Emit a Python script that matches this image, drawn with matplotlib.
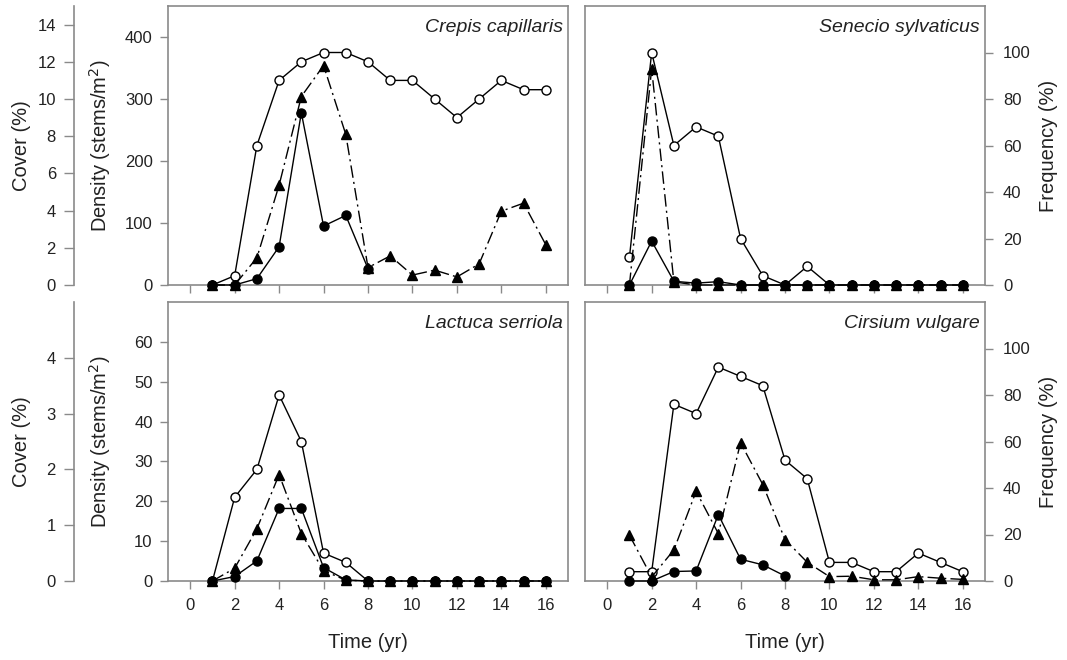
import numpy as np
import matplotlib.pyplot as plt

plt.rcParams['font.family'] = ['Liberation Sans', 'DejaVu Sans']

nan = np.nan
years = np.arange(1, 17)

# frequency (%) - open circles
crepis_freq = [0, 4, 60, 88, 96, 100, 100, 96, 88, 88, 80, 72, 80, 88, 84, 84]
senecio_freq = [12, 100, 60, 68, 64, 20, 4, 0, 8, 0, 0, 0, 0, 0, 0, 0]
lactuca_freq = [0, 36, 48, 80, 60, 12, 8, 0, 0, 0, 0, 0, 0, 0, 0, 0]
cirsium_freq = [4, 4, 76, 72, 92, 88, 84, 52, 44, 8, 8, 4, 4, 12, 8, 4]

# density (stems/m2) - triangles
crepis_dens = [0, 0, 44, 161, 304, 354, 243, 28, 47, 16, 24, 13, 34, 119, 132, 65]
senecio_dens = [0, 349, 5, 0, 0, 0, 0, 0, 0, 0, 0, 0, 0, 0, 0, 0]
lactuca_dens = [0, 3.2, 13.1, 26.7, 11.9, 2.6, 0.2, 0, 0, 0, 0, 0, 0, 0, 0, 0]
cirsium_dens = [11.5, 1.0, 7.8, 22.5, 11.9, 34.7, 24.2, 10.4, 4.7, 1.1, 1.2, 0.3, 0.3, 1.1, 0.7, 0.4]

# cover (%) - filled circles
crepis_cover = [0, 0, 0.34, 2.06, 9.26, 3.17, 3.74, 0.88, nan, nan, nan, nan, nan, nan, nan, nan]
senecio_cover = [0, 2.36, 0.2, 0.1, 0.18, 0, 0, 0, 0, 0, 0, 0, 0, 0, 0, 0]
lactuca_cover = [0, 0.08, 0.36, 1.30, 1.30, 0.24, 0.02, 0, 0, 0, 0, 0, 0, 0, 0, 0]
cirsium_cover = [0, 0, 0.17, 0.18, 1.19, 0.39, 0.29, 0.09, nan, nan, nan, nan, nan, nan, nan, nan]

species = ['Crepis capillaris', 'Senecio sylvaticus', 'Lactuca serriola', 'Cirsium vulgare']
freqs = [crepis_freq, senecio_freq, lactuca_freq, cirsium_freq]
denss = [crepis_dens, senecio_dens, lactuca_dens, cirsium_dens]
covers = [crepis_cover, senecio_cover, lactuca_cover, cirsium_cover]

# per row: density max, cover max, ticks
dens_max = [450, 70]
cover_max = [15, 5]
dens_ticks = [np.arange(0, 401, 100), np.arange(0, 61, 10)]
cover_ticks = [np.arange(0, 15, 2), np.arange(0, 5, 1)]

gray = '#8a8a8a'
txt = '#222222'
W, H = 1067, 660

fig = plt.figure(figsize=(W / 100, H / 100), dpi=100)

lefts = [168, 585]
tops = [6, 302]
pw, ph = 400, 279

for i in range(4):
    r, c = divmod(i, 2)
    x0, y0 = lefts[c], tops[r]
    fax = fig.add_axes([x0 / W, 1 - (y0 + ph) / H, pw / W, ph / H])
    dax = fax.twinx()
    cax = fax.twinx()

    fax.set_xlim(-1, 17)
    fax.set_ylim(0, 120)
    dax.set_ylim(0, dens_max[r])
    cax.set_ylim(0, cover_max[r])

    fax.plot(years, freqs[i], '-', color='black', lw=1, marker='o', ms=6.5,
             mfc='white', mec='black', mew=1, clip_on=False)
    dax.plot(years, denss[i], color='black', lw=1, dashes=(9, 3, 1.5, 3),
             marker='^', ms=6.5, mfc='black', mec='black', clip_on=False)
    cax.plot(years, covers[i], '-', color='black', lw=1, marker='o', ms=6.5,
             mfc='black', mec='black', clip_on=False)

    for a in (fax, dax, cax):
        for s in a.spines.values():
            s.set_visible(False)
        a.tick_params(left=False, right=False, labelleft=False, labelright=False,
                      colors=gray, labelcolor=txt, labelsize=12, length=6, width=1)
        a.set_yticks([])
    for s in fax.spines.values():
        s.set_visible(True)
        s.set_color(gray)
        s.set_linewidth(1.2)

    fax.set_xticks(np.arange(0, 17, 2))
    fax.tick_params(axis='x', bottom=True, top=False, direction='out', pad=6,
                    labelbottom=(r == 1))

    if c == 0:
        dax.set_yticks(dens_ticks[r])
        dax.yaxis.set_ticks_position('left')
        dax.tick_params(axis='y', left=True, labelleft=True, right=False,
                        labelright=False, pad=5)
        cax.set_yticks(cover_ticks[r])
        cax.yaxis.set_ticks_position('left')
        cax.spines['left'].set_visible(True)
        cax.spines['left'].set_color(gray)
        cax.spines['left'].set_linewidth(1.2)
        cax.spines['left'].set_position(('axes', -(x0 - 74) / pw))
        cax.tick_params(axis='y', left=True, labelleft=True, right=False,
                        labelright=False, length=7, pad=6)
    else:
        fax.set_yticks(np.arange(0, 101, 20))
        fax.tick_params(axis='y', right=True, labelright=True, left=False,
                        labelleft=False, pad=7)

    fax.text((pw - 5) / pw, (ph - 22) / ph, species[i], transform=fax.transAxes,
             ha='right', va='center', style='italic', fontsize=14, color=txt)

    if r == 1:
        fig.text((x0 + pw / 2) / W, 1 - 643 / H, 'Time (yr)', ha='center', va='center',
                 fontsize=14.5, color=txt)

for r in range(2):
    yc = 1 - (tops[r] + ph / 2) / H
    fig.text(22 / W, yc, 'Cover (%)', rotation=90, ha='center', va='center',
             fontsize=14.5, color=txt)
    fig.text(100 / W, yc, 'Density (stems/m$^2$)', rotation=90, ha='center',
             va='center', fontsize=14.5, color=txt)
    fig.text(1048 / W, yc, 'Frequency (%)', rotation=90, ha='center', va='center',
             fontsize=14.5, color=txt)

fig.savefig('out.png', dpi=100)
